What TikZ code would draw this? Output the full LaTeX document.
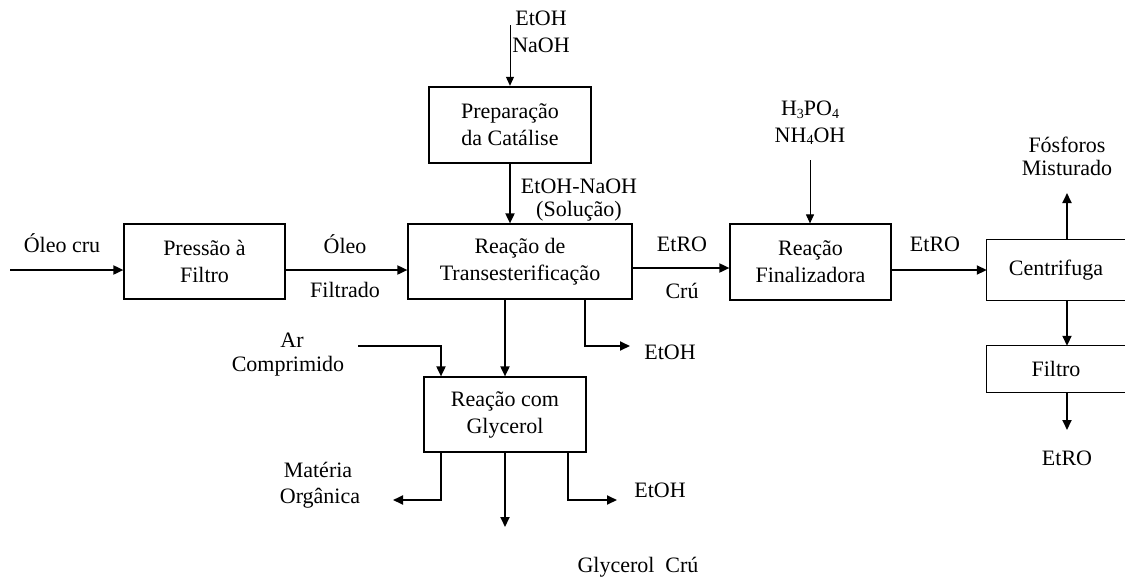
\documentclass[tikz,border=0pt]{standalone}
\usepackage{fontspec}
\setmainfont{Liberation Serif}
\usetikzlibrary{arrows.meta}
\newcommand{\dsub}[1]{\raisebox{-2.5pt}{\fontsize{14}{14}\selectfont #1}}
\begin{document}
\begin{tikzpicture}[x=1pt,y=-1pt,
  every node/.style={font=\fontsize{22}{27}\selectfont},
  box/.style={draw, line width=1.2pt, inner sep=0pt, align=center},
  thickbox/.style={box, line width=2.4pt},
  openbox/.style={inner sep=0pt, align=center},
  lbl/.style={inner sep=0pt, align=center},
  arr/.style={line width=1.8pt, -{Triangle[length=10pt,width=9pt]}},
  thinarr/.style={line width=1pt, -{Triangle[length=9pt,width=8pt]}},
  ln/.style={line width=1.8pt}]
\useasboundingbox (0,0) rectangle (1125,582);
\fill[white] (0,0) rectangle (1125,582);

% boxes
\node[box, minimum width=161pt, minimum height=75pt] (pressao) at (204.5,261.5) {Pressão à\\Filtro};
\node[thickbox, minimum width=162pt, minimum height=76pt] (prep) at (510,125) {Preparação\\da Catálise};
\node[box, minimum width=224pt, minimum height=75pt] (trans) at (520,261.5) {Reação de\\Transesterificação};
\node[box, minimum width=162pt, minimum height=75pt] (glyc) at (505,414.5) {Reação com\\Glycerol};
\node[box, minimum width=161pt, minimum height=76pt] (final) at (810.5,262) {Reação\\Finalizadora};
\node[openbox, minimum width=138pt, minimum height=60pt] (centr) at (1056,270) {Centrifuga};
\node[openbox, minimum width=138pt, minimum height=46pt] (filtro) at (1056,369) {Filtro};
\draw[line width=1.2pt] (centr.north east) -- (centr.north west) -- (centr.south west) -- (centr.south east);
\draw[line width=1.2pt] (filtro.north east) -- (filtro.north west) -- (filtro.south west) -- (filtro.south east);

% labels
\node[lbl] (lcru) at (62,243) {Óleo cru};
\node[lbl] (loleo) at (345,244) {Óleo};
\node[lbl] (lfiltrado) at (345,290) {Filtrado};
\node[lbl] (letoh) at (541,18) {EtOH};
\node[lbl] (lnaoh) at (541,45) {NaOH};
\node[lbl] (lsol1) at (579,186) {EtOH-NaOH};
\node[lbl] (lsol2) at (579,211) {(Solução)};
\node[lbl] (letro1) at (682,244) {EtRO};
\node[lbl] (lcru2) at (682,291) {Crú};
\node[lbl] (lh3po4) at (810,110) {H\dsub{3}PO\dsub{4}};
\node[lbl] (lnh4oh) at (810,136) {NH\dsub{4}OH};
\node[lbl] (letro2) at (935,244) {EtRO};
\node[lbl] (lfos1) at (1067,145) {Fósforos};
\node[lbl] (lfos2) at (1067,168) {Misturado};
\node[lbl] (letro3) at (1067,458) {EtRO};
\node[lbl] (letoh2) at (670,352) {EtOH};
\node[lbl] (lar1) at (292,340) {Ar};
\node[lbl] (lar2) at (288,366) {Comprimido};
\node[lbl] (lmat1) at (318,470) {Matéria};
\node[lbl] (lmat2) at (320,498) {Orgânica};
\node[lbl] (letoh3) at (660,490) {EtOH};
\node[lbl] (lglyc) at (638,567) {Glycerol~~Crú};

% coordinates
\coordinate (cruS) at (10,270);
\coordinate (topS) at (510,25);
\coordinate (hS) at (810,160);
\coordinate (fosE) at (1067,193);
\coordinate (etroE) at (1067,430);
\coordinate (etohA) at (585,346);
\coordinate (etohE) at (630,346);
\coordinate (arS) at (358,346);
\coordinate (arC) at (441,346);
\coordinate (matC) at (441,500);
\coordinate (matE) at (393,500);
\coordinate (glyE) at (505,527);
\coordinate (et3C) at (568,500);
\coordinate (et3E) at (617,500);

% connectors
\draw[arr] (cruS) -- (cruS -| pressao.west);
\draw[arr] (pressao.east |- cruS) -- (trans.west |- cruS);
\draw[thinarr] (topS) -- (topS |- prep.north);
\draw[arr] (prep.south -| topS) -- (trans.north -| topS);
\draw[arr] (trans.east |- 0,268) -- (final.west |- 0,268);
\draw[thinarr] (hS) -- (hS |- final.north);
\draw[arr] (final.east |- 0,270) -- (centr.west |- 0,270);
\draw[arr] (fosE |- centr.north) -- (fosE);
\draw[arr] (fosE |- centr.south) -- (fosE |- filtro.north);
\draw[arr] (fosE |- filtro.south) -- (etroE);
\draw[arr] (trans.south -| glyE) -- (glyc.north -| glyE);
\draw[arr] (trans.south -| etohA) -- (etohA) -- (etohE);
\draw[arr] (arS) -- (arC) -- (glyc.north -| arC);
\draw[arr] (glyc.south -| matC) -- (matC) -- (matE);
\draw[arr] (glyc.south -| glyE) -- (glyE);
\draw[arr] (glyc.south -| et3C) -- (et3C) -- (et3E);
\end{tikzpicture}
\end{document}
